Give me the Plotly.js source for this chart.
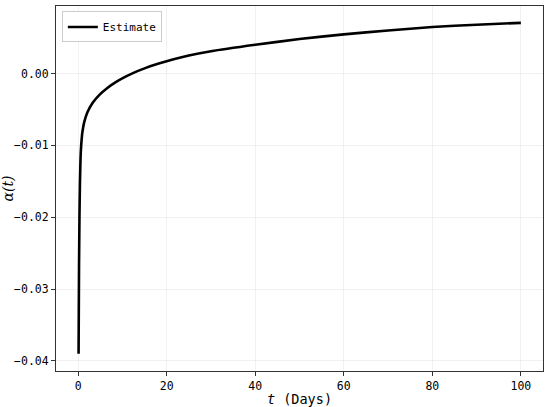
<!DOCTYPE html>
<html>
<head>
<meta charset="utf-8">
<script src="https://cdn.plot.ly/plotly-3.0.1.min.js"></script>
<style>html,body{margin:0;padding:0;background:#fff;}#chart{width:550px;height:407px;}</style>
</head>
<body>
<div id="chart"></div>
<script>
// Days
const tDays = [0.1, 0.2, 0.3, 0.4, 0.5, 0.61, 0.84, 1.0, 1.36, 2.1, 3.25, 4.75, 6.6, 8.5, 10.5, 12.5, 15, 17.5, 20, 25, 30, 40, 50, 60, 70, 80, 90, 100];
// alpha(t) estimate
const alphaEst = [-0.0390, -0.0270, -0.0200, -0.0155, -0.0128, -0.0108, -0.0088, -0.0080, -0.0068, -0.0054, -0.0041, -0.0030, -0.0020, -0.0012, -0.0005, 0.0001, 0.00072, 0.00125, 0.0017, 0.0025, 0.0031, 0.0040, 0.0048, 0.00545, 0.0060, 0.00647, 0.0068, 0.00705];
const xTicks = [0, 20, 40, 60, 80, 100];
const yTicks = [-0.04, -0.03, -0.02, -0.01, 0.00];
const yTickText = ['−0.04', '−0.03', '−0.02', '−0.01', '0.00'];
const seriesName = 'Estimate';

const mono = 'DejaVu Sans Mono, monospace';
const trace = {
  x: tDays, y: alphaEst, type: 'scatter', mode: 'lines', name: seriesName,
  line: {color: '#000000', width: 2.6, shape: 'spline', smoothing: 0.5}
};
const axisCommon = {
  showline: true, mirror: true, linecolor: '#333333', linewidth: 1,
  ticks: 'outside', ticklen: 4, tickcolor: '#333333', tickwidth: 1,
  showgrid: true, gridcolor: 'rgba(210,210,210,0.3)', gridwidth: 1,
  zeroline: false, tickfont: {family: mono, size: 11.5, color: '#000'}
};
const layout = {
  width: 550, height: 407,
  margin: {l: 56, r: 7, t: 6, b: 36},
  paper_bgcolor: '#ffffff', plot_bgcolor: '#ffffff',
  showlegend: true,
  legend: {x: 0.012, y: 0.985, xanchor: 'left', yanchor: 'top',
    bgcolor: '#ffffff', bordercolor: '#cccccc', borderwidth: 1,
    font: {family: mono, size: 11, color: '#000'}},
  xaxis: Object.assign({}, axisCommon, {
    range: [-5, 105], tickvals: xTicks,
    title: {text: '<i>t</i> (Days)', standoff: 6, font: {family: mono, size: 13.5, color: '#000'}}
  }),
  yaxis: Object.assign({}, axisCommon, {
    range: [-0.0414, 0.0094], tickvals: yTicks, ticktext: yTickText,
    title: {text: '<i>α(t)</i>', standoff: 10, font: {family: 'DejaVu Serif, serif', size: 14, color: '#000'}}
  })
};
Plotly.newPlot('chart', [trace], layout, {displayModeBar: false, staticPlot: true});
</script>
</body>
</html>
